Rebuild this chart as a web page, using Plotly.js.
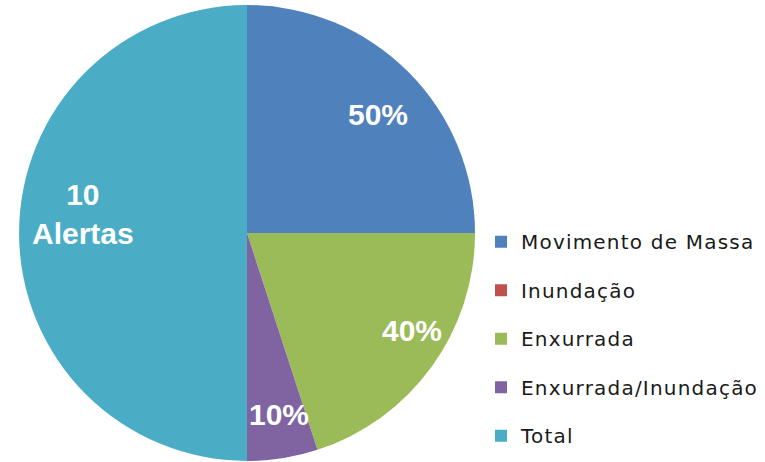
<!DOCTYPE html>
<html>
<head>
<meta charset="utf-8">
<script src="https://cdn.plot.ly/plotly-3.0.1.min.js"></script>
<style>html,body{margin:0;padding:0;background:#fff;}#chart{width:765px;height:462px;}</style>
</head>
<body>
<div id="chart"></div>
<script>
const categories = ["Movimento de Massa", "Inundação", "Enxurrada", "Enxurrada/Inundação", "Total"];
const values = [5, 0, 4, 1, 10];
const sliceLabels = ["50%", "", "40%", "10%", "10<br>Alertas"];
const colors = ["#4F81BD", "#C0504D", "#9BBB59", "#8064A2", "#4BACC6"];

// label placement style: radius fraction along slice mid-angle, plus pixel nudges
const labelRadius = 0.78;
const labelNudge = [[5, 7], [0, 0], [21, -7], [4, 6], [14, -19]];

const W = 765, H = 462;

const legendLabels = categories.map(c =>
  '<span style="font-size:20px;letter-spacing:1.2px;baseline-shift:6px">' + c + '</span>');

const trace = {
  type: 'pie',
  labels: legendLabels,
  values: values,
  textinfo: 'none',
  sort: false,
  direction: 'clockwise',
  rotation: 0,
  marker: {colors: colors, line: {width: 0}},
  domain: {x: [19/W, 475/W], y: [1/H, 457/H]},
  hoverinfo: 'none'
};

const layout = {
  width: W, height: H,
  margin: {l: 0, r: 0, t: 0, b: 0, autoexpand: false},
  paper_bgcolor: '#ffffff',
  showlegend: true,
  legend: {
    x: 481/W, xanchor: 'left',
    y: (H-212.5)/H, yanchor: 'top',
    font: {family: 'DejaVu Sans', size: 35, color: '#1a1a1a'},
    bgcolor: 'rgba(0,0,0,0)'
  }
};

const gd = document.getElementById('chart');
Plotly.newPlot(gd, [trace], layout, {displayModeBar: false, staticPlot: true}).then(function() {
  const cd0 = gd.calcdata[0][0];
  const cx = cd0.cx, cy = cd0.cy, r = cd0.r;
  const total = values.reduce((a, b) => a + b, 0);
  let cum = 0;
  const annotations = [];
  values.forEach(function(v, i) {
    const mid = (cum + v / 2) / total * 2 * Math.PI;
    cum += v;
    if (!sliceLabels[i]) return;
    const px = cx + r * labelRadius * Math.sin(mid) + labelNudge[i][0];
    const py = cy - r * labelRadius * Math.cos(mid) + labelNudge[i][1];
    annotations.push({
      xref: 'paper', yref: 'paper',
      x: px / W, y: 1 - py / H,
      xanchor: 'center', yanchor: 'middle',
      text: sliceLabels[i], showarrow: false,
      font: {family: 'Liberation Sans', size: 30, color: '#ffffff', weight: 'bold'}
    });
  });
  return Plotly.relayout(gd, {annotations: annotations});
});
</script>
</body>
</html>
